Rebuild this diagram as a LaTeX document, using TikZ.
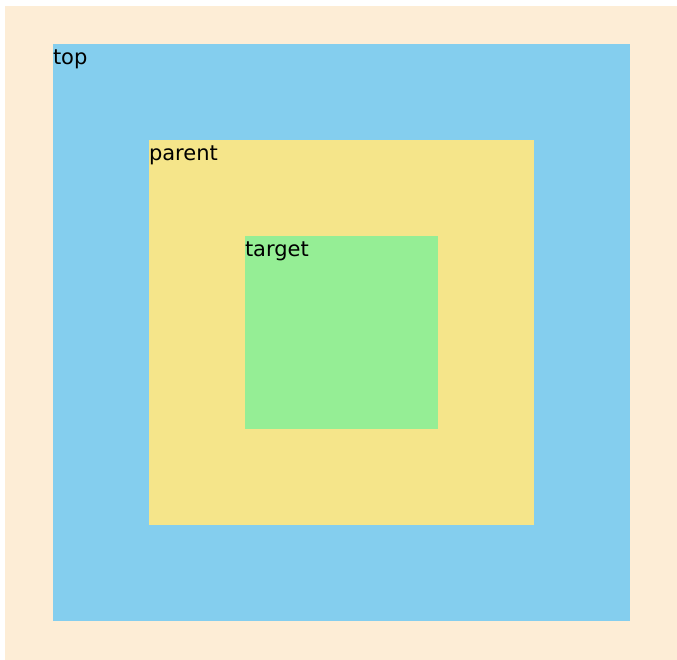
\documentclass[tikz,border=0pt]{standalone}
\usepackage{fontspec}
\setmainfont{DejaVu Sans}
\definecolor{peach}{HTML}{FDEDD6}
\definecolor{topblue}{HTML}{84CEEE}
\definecolor{parentyellow}{HTML}{F5E58A}
\definecolor{targetgreen}{HTML}{95EE95}
\tikzset{
  box/.style={inner sep=0pt, outer sep=0pt, anchor=north west, draw=none},
  lbl/.style={inner sep=0pt, outer sep=0pt, anchor=base west, font=\fontsize{21}{25}\selectfont, text=black}
}
\begin{document}
\begin{tikzpicture}[x=1pt,y=-1pt]
\useasboundingbox (0,0) rectangle (677,660);
\node[box, fill=peach, minimum width=672pt, minimum height=654pt] (bg) at (5,6) {};
\node[box, fill=topblue, minimum width=577pt, minimum height=577pt] (top) at (53,44) {};
\node[box, fill=parentyellow, minimum width=385pt, minimum height=385pt] (parent) at (149,140) {};
\node[box, fill=targetgreen, minimum width=193pt, minimum height=193pt] (target) at (245,236) {};
\node[lbl] (toplbl) at ([yshift=-20.5pt]top.north west) {top};
\node[lbl] (parentlbl) at ([yshift=-20.5pt]parent.north west) {parent};
\node[lbl] (targetlbl) at ([yshift=-20.5pt]target.north west) {target};
\end{tikzpicture}
\end{document}
